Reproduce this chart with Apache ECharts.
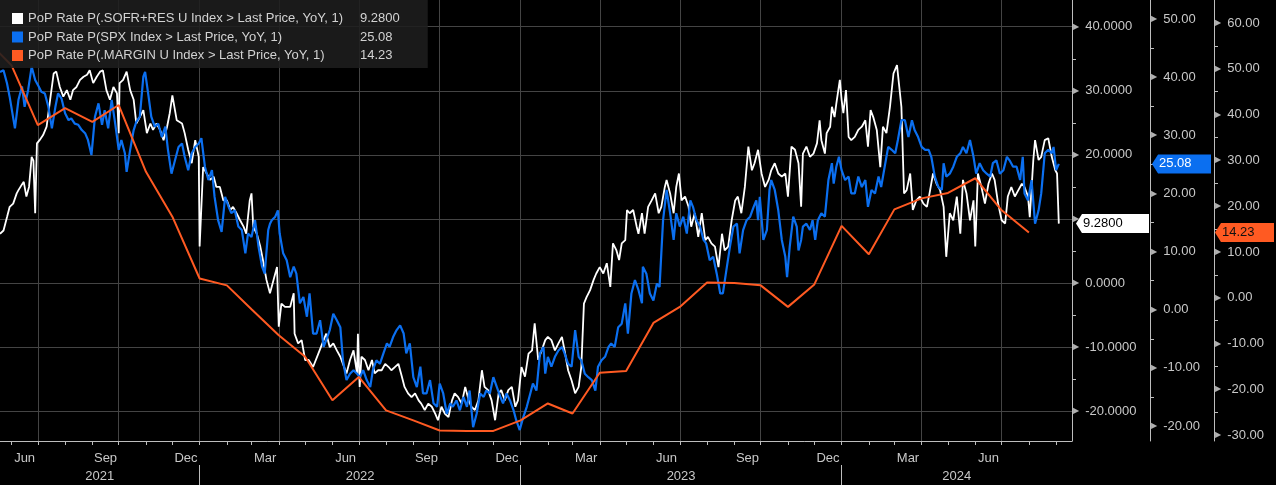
<!DOCTYPE html>
<html><head><meta charset="utf-8">
<script src="https://cdn.jsdelivr.net/npm/echarts@6/dist/echarts.min.js"></script>
<style>html,body{margin:0;padding:0;background:#000;overflow:hidden;}#c{width:1276px;height:485px;}</style>
</head><body><div id="c"></div><script>
// ---------------- DATA ----------------
const seriesNames = [
  'PoP Rate P(.SOFR+RES U Index > Last Price, YoY, 1)',
  'PoP Rate P(SPX Index > Last Price, YoY, 1)',
  'PoP Rate P(.MARGIN U Index > Last Price, YoY, 1)'
];
const lastValues = ['9.2800', '25.08', '14.23'];
const lastNumbers = [9.28, 25.08, 14.23];
const baseDate = '2021-05-19';   // day 0 of the day offsets below
const axisStart = '2021-05-19';
const axisEnd = '2024-09-19';

const sofrDays = [0,4,8,11,15,19,21,25,27,30,33,36,38,40,42,45,49,53,57,61,64,68,72,76,80,83,87,91,95,99,102,106,110,114,117,121,125,129,133,135,136,140,144,148,152,155,159,163,167,171,174,178,182,186,190,193,196,201,207,210,214,218,222,226,227,231,235,239,243,246,250,254,258,262,265,269,273,277,280,284,286,288,292,296,299,303,307,
309,315,317,320,324,330,334,335,339,343,347,351,356,362,368,371,375,379,383,387,390,394,398,402,406,407,409,411,415,419,423,426,430,434,438,442,445,449,453,457,460,464,468,472,476,479,483,487,491,495,498,502,506,510,514,517,521,525,529,533,536,540,544,548,551,555,559,563,567,570,574,578,582,586,589,593,597,601,605,608,
612,616,620,623,627,631,635,639,642,646,650,654,658,661,664,667,671,675,678,682,686,690,694,697,701,704,707,711,713,716,720,724,726,730,733,737,741,745,749,752,756,758,762,766,769,772,775,779,783,786,790,794,798,802,805,809,813,817,821,824,828,832,836,839,843,847,851,855,858,862,866,870,874,877,881,885,889,893,896,900,904,908,
911,913,917,921,925,929,932,934,938,940,944,946,949,951,955,957,959,962,965,968,972,976,980,984,987,990,993,997,1001,1004,1008,1012,1016,1020,1023,1025,1028,1031,1035,1038,1042,1046,1050,1054,1057,1061,1065,1069,1073,1076,1080,1084,1088,1092,1095,1099,1103,1107,1109,1112,1116,1120,1124,1128,1131,1135,1139,1143,1146,1150,1154,1158,1162,1165,1169,1171,1175,1177,1181,1184,1188,1192,1196,1200,1202,1204];
const sofrVals = [7.7,8.2,10.3,11.9,12.4,14.0,14.5,15.4,15.8,13.5,15.0,19.7,19.1,10.9,21.8,22.3,23.1,24.4,28.6,32.7,33.0,30.6,29.1,30.1,28.6,30.1,30.6,31.7,32.2,32.5,33.2,31.2,32.2,33.0,33.2,30.1,28.6,30.6,29.6,23.4,31.2,31.7,33.0,30.1,28.6,24.9,25.9,27.0,23.4,24.9,23.9,24.9,23.9,22.3,24.4,26.5,29.3,25.4,24.9,23.4,20.8,18.7,22.3,19.7,5.7,18.1,17.1,16.1,16.6,15.0,15.0,12.9,12.9,11.4,11.9,10.9,9.8,8.8,7.7,12.9,14.0,8.8,7.7,5.7,3.6,0.5,-1.6,
-1.6,2.5,-6.8,-3.2,-3.7,-3.7,-1.6,-7.9,-9.4,-8.9,-12.0,-12.0,-13.1,-11.0,-8.9,-7.9,-10.0,-9.4,-10.5,-11.5,-12.6,-14.1,-12.0,-10.5,-14.1,-7.9,-16.2,-11.5,-12.0,-13.6,-12.0,-14.1,-13.6,-13.6,-12.6,-13.1,-13.6,-13.1,-12.6,-14.6,-16.2,-17.2,-17.8,-17.2,-18.3,-18.8,-19.8,-18.8,-19.3,-20.4,-21.4,-19.3,-20.4,-20.9,-18.3,-17.2,-17.8,-18.8,-16.2,-18.3,-19.3,-19.8,-18.3,-13.6,-16.2,-16.7,-18.3,-21.4,-17.2,-16.7,-18.3,-16.7,-16.2,-19.3,-18.3,-13.1,-14.6,-11.0,-10.5,-6.3,
-12.0,-10.5,-8.9,-8.4,-8.9,-10.5,-9.4,-8.4,-10.5,-13.6,-15.2,-17.2,-16.2,-13.1,-3.2,-2.2,-1.1,0.5,1.5,2.5,1.5,3.1,-0.6,6.2,5.1,3.6,6.2,6.7,11.4,10.9,11.4,8.8,7.7,10.9,7.7,11.9,12.9,14.0,10.9,11.9,15.0,16.1,14.0,10.9,15.0,17.1,12.9,13.5,11.9,8.8,10.9,7.2,10.9,6.7,7.2,6.2,5.7,2.5,7.7,5.1,5.7,9.8,12.9,13.5,10.9,15.0,21.3,17.6,18.7,20.8,17.1,15.0,16.1,17.6,18.7,17.1,16.6,17.1,13.5,21.3,20.8,18.7,
11.9,20.2,21.3,19.7,20.2,21.8,25.4,22.3,20.2,23.4,24.4,27.5,25.9,28.0,31.7,28.6,26.5,30.1,22.8,22.3,22.8,23.9,24.4,25.4,21.3,27.0,25.9,23.9,18.1,24.4,23.4,27.5,32.7,34.0,30.1,27.5,14.0,14.5,17.1,11.4,12.9,13.5,12.4,11.9,14.0,17.1,15.5,14.5,11.9,4.1,10.9,9.8,13.5,7.7,16.1,14.0,9.8,12.9,5.7,17.1,15.0,12.4,15.5,17.1,16.1,12.4,9.8,9.3,13.5,15.0,13.5,14.5,15.5,15.0,13.5,10.3,19.2,22.3,19.2,19.7,22.3,22.6,19.7,17.6,17.1,9.28];

const spxDays = [0,4,8,11,17,21,25,28,32,36,40,44,47,51,55,59,63,66,70,74,78,81,85,89,93,97,100,104,108,112,116,119,123,127,131,135,138,142,144,148,152,155,159,163,165,169,172,176,180,184,188,191,195,199,203,207,210,214,218,222,226,229,233,237,241,244,248,252,256,260,263,267,271,275,279,282,286,290,294,298,301,305,307,
309,313,316,318,322,326,330,334,337,341,345,349,352,356,360,364,368,371,375,379,383,387,390,394,398,402,406,409,413,417,421,424,428,432,436,440,443,447,451,455,459,462,466,470,474,478,481,485,489,493,497,500,504,508,512,515,519,523,527,531,534,538,542,546,550,553,557,561,565,569,572,576,580,584,587,591,595,599,603,606,
610,614,618,620,623,627,631,635,639,642,646,650,654,658,661,665,669,673,677,680,684,688,692,695,699,703,707,711,714,718,722,726,730,731,735,739,743,747,750,752,754,758,762,766,769,773,777,781,785,788,792,796,800,803,807,811,815,819,822,826,830,834,838,841,845,849,853,857,860,862,864,868,872,875,877,881,885,889,893,895,898,902,906,908,
911,913,917,921,924,927,930,934,938,942,946,948,951,954,957,961,965,968,972,976,980,984,987,991,995,999,1002,1006,1010,1014,1018,1021,1025,1029,1033,1037,1040,1044,1048,1052,1056,1059,1063,1067,1071,1073,1076,1080,1084,1088,1092,1095,1099,1103,1107,1110,1114,1118,1122,1126,1129,1133,1137,1141,1145,1148,1152,1156,1160,1163,1165,1169,1173,1177,1181,1184,1188,1192,1196,1198,1201,1204];
const spxVals = [40.9,41.2,38.9,36.6,31.2,36.1,38.4,34.9,37.8,41.8,39.5,38.4,37.5,37.2,34.9,31.2,34.9,37.2,36.3,33.8,32.6,32.9,32.0,31.8,30.9,30.3,29.2,26.6,33.2,35.5,31.8,34.3,31.2,36.1,32.0,27.5,29.2,26.9,23.7,27.5,30.9,32.3,33.2,40.1,40.9,36.6,33.2,31.5,32.0,29.7,31.5,27.5,23.4,25.7,28.0,28.6,26.3,24.0,26.9,28.0,28.6,29.5,24.6,22.3,24.0,19.4,15.4,13.4,19.4,17.7,16.6,17.1,14.3,13.7,9.7,13.1,12.5,15.4,10.8,7.4,6.2,13.7,14.8,
15.4,16.0,17.1,13.1,9.7,8.5,5.6,7.4,6.2,1.1,2.2,-1.2,2.8,-4.1,-4.1,-1.8,-6.4,-5.2,-3.5,-0.7,-1.8,-3.0,-8.7,-12.1,-11.0,-10.4,-11.0,-11.6,-10.4,-12.1,-13.3,-10.4,-8.7,-9.3,-7.5,-5.8,-6.4,-4.7,-3.5,-2.7,-4.1,-7.5,-5.8,-11.6,-13.3,-9.8,-14.4,-14.4,-12.1,-16.1,-16.7,-12.7,-14.4,-17.9,-16.1,-16.7,-15.6,-17.3,-15.0,-16.7,-13.9,-20.2,-17.9,-14.4,-15.0,-13.9,-14.4,-11.6,-13.3,-15.0,-16.1,-14.4,-15.6,-17.3,-19.0,-20.7,-18.5,-16.7,-14.4,-12.7,
-13.9,-7.5,-6.4,-11.0,-8.1,-9.8,-8.1,-7.0,-6.4,-7.5,-9.3,-9.8,-3.5,-8.1,-8.7,-11.0,-11.6,-12.1,-13.9,-9.8,-8.7,-8.1,-6.4,-5.8,-6.4,-3.0,-2.4,1.1,-4.1,2.8,5.1,3.4,1.1,7.4,6.2,2.8,1.6,4.5,3.9,9.7,15.4,20.6,16.6,12.0,16.6,14.3,16.0,13.1,18.8,17.7,15.4,14.3,12.0,11.4,8.5,9.1,6.2,2.8,2.8,6.8,10.8,14.3,14.8,9.7,13.7,15.4,16.0,17.7,18.8,15.4,19.4,12.0,13.7,20.6,22.3,20.6,17.1,12.0,9.1,5.6,10.8,16.0,14.3,10.2,
12.0,14.3,14.8,13.7,15.4,12.0,15.4,16.6,16.0,22.3,25.2,21.7,24.6,26.3,24.0,22.3,22.9,20.0,20.0,22.9,21.1,22.3,17.7,20.6,20.0,22.9,21.1,24.6,28.0,27.5,26.9,29.2,32.6,32.6,29.7,32.6,30.9,29.7,28.0,27.5,27.5,26.3,22.9,21.1,20.6,25.2,22.9,23.4,24.6,26.3,26.9,28.0,26.9,29.2,26.3,23.4,25.2,24.0,23.4,22.9,25.2,25.7,23.4,24.0,26.3,25.7,24.6,24.6,22.3,26.3,20.0,18.8,22.3,14.8,17.1,20.0,26.9,27.5,26.9,28.0,24.0,25.08];

const marginDates = ['2021-05-01','2021-06-01','2021-07-01','2021-08-01','2021-09-01','2021-10-01','2021-11-01','2021-12-01',
  '2022-01-01','2022-02-01','2022-03-01','2022-04-01','2022-05-01','2022-06-01','2022-07-01','2022-08-01','2022-09-01','2022-10-01','2022-11-01','2022-12-01',
  '2023-01-01','2023-02-01','2023-03-01','2023-04-01','2023-05-01','2023-06-01','2023-07-01','2023-08-01','2023-09-01','2023-10-01','2023-11-01','2023-12-01',
  '2024-01-01','2024-02-01','2024-03-01','2024-04-01','2024-05-01','2024-06-01','2024-07-01','2024-08-01'];
const marginVals = [56.8,50.8,37.7,41.4,38.4,42.1,27.5,17.7,
  4.2,2.7,-2.5,-8.2,-12.9,-22.4,-17.3,-24.6,-26.8,-29.0,-29.1,-29.1,
  -26.8,-23.1,-25.3,-16.4,-16.0,-5.5,-2.0,3.3,3.2,2.7,-2.0,2.9,
  15.7,9.5,19.3,21.7,22.9,26.1,19.1,14.23];

// tick labels
const y0Ticks = [-20,-10,0,10,20,30,40];
const y0Minor = [-15,-5,5,15,25,35];
const y1Ticks = [-20,-10,0,10,20,30,40,50];
const y1Minor = [-15,-5,5,15,25,35,45];
const y2Ticks = [-30,-20,-10,0,10,20,30,40,50,60];
const y2Minor = [-25,-15,-5,5,15,25,35,45,55];
const monthNames = ['Jan','Feb','Mar','Apr','May','Jun','Jul','Aug','Sep','Oct','Nov','Dec'];
const monthLabelMonths = [2,5,8,11]; // Mar, Jun, Sep, Dec
const yearLabels = ['2021','2022','2023','2024'];
const lastMonthLabel = '2024-06';

// ---------------- BUILD ----------------
const DAY = 86400000;
const ts = s => Date.parse(s + 'T00:00:00Z');
const base = ts(baseDate);
const xMin = ts(axisStart), xMax = ts(axisEnd);
const sofrData = sofrDays.map((d,i)=>[base + d*DAY, sofrVals[i]]);
const spxData = spxDays.map((d,i)=>[base + d*DAY, spxVals[i]]);
const marginData = marginDates.map((d,i)=>[ts(d), marginVals[i]]);

const monthTicks = [], quarterGrid = [], monthLabelPos = [];
for (let y = 2021; y <= 2024; y++) {
  for (let m = 0; m < 12; m++) {
    const t = Date.UTC(y, m, 1);
    if (t <= xMin || t >= xMax) continue;
    monthTicks.push(t);
    if (m % 3 === 0) quarterGrid.push(t);
    const mid = (t + Date.UTC(y, m + 1, 1)) / 2;
    if (monthLabelMonths.includes(m) && mid < ts(lastMonthLabel + '-28')) monthLabelPos.push(mid);
  }
}
const yearStarts = yearLabels.slice(1).map(y => ts(y + '-01-01'));
const yearBounds = [xMin].concat(yearStarts).concat([xMax]);
const yearLabelPos = yearLabels.map((y,i)=> (yearBounds[i] + yearBounds[i+1]) / 2);

const blue = '#0b6ff0', orange = '#ff5a22', white = '#ffffff';
const axisCol = '#bdbdbd', labCol = '#c8c8c8', gridCol = '#444444';
const FONT = '"Liberation Sans", Arial, sans-serif';

function arrowImg(color){
  const svg = '<svg xmlns="http://www.w3.org/2000/svg" width="6" height="19" viewBox="0 0 6 19"><polygon points="0,9.5 6,0 6,19" fill="' + color + '"/></svg>';
  return 'data:image/svg+xml;charset=utf-8,' + encodeURIComponent(svg);
}

function yAxisDef(offset, min, max, ticks, minor, dec, flagVal, flagText, flagBg, flagFg, flagW, lead, hideVal) {
  return {
    type: 'value', position: 'right', offset: offset, min: min, max: max,
    axisLine: { show: true, onZero: false, lineStyle: { color: axisCol, width: 1 } },
    axisTick: { show: true, customValues: minor, length: 4, inside: false, lineStyle: { color: axisCol } },
    splitLine: { show: false },
    axisLabel: {
      show: true, margin: 1, customValues: ticks.concat([flagVal]),
      formatter: function (v) {
        if (Math.abs(v - flagVal) < 1e-9) return (lead > 0 ? '{sp| }' : '') + '{fa| }{fb|' + flagText + '}';
        if (hideVal !== null && Math.abs(v - hideVal) < 1e-9) return '{t|▶}';
        return '{t|▶}{v|' + v.toFixed(dec) + '}';
      },
      rich: {
        t: { fontFamily: 'DejaVu Sans', fontSize: 8, color: '#b0b0b0', padding: [0, 6, 0, 0], verticalAlign: 'middle' },
        v: { fontFamily: FONT, fontSize: 13, color: labCol, verticalAlign: 'middle' },
        sp: { width: lead, height: 19, fontSize: 1 },
        fa: { width: 6, height: 19, fontSize: 1, backgroundColor: { image: arrowImg(flagBg) }, verticalAlign: 'middle' },
        fb: { fontFamily: FONT, fontSize: 13, color: flagFg, backgroundColor: flagBg, width: flagW, height: 19, lineHeight: 19, padding: [0, 0, 0, 1], verticalAlign: 'middle' }
      }
    }
  };
}

const chart = echarts.init(document.getElementById('c'), null, { renderer: 'canvas' });
chart.setOption({
  backgroundColor: '#000000',
  animation: false,
  textStyle: { fontFamily: FONT },
  grid: { left: 0, right: 204, top: 0, bottom: 44, containLabel: false, outerBoundsMode: 'none' },
  legend: {
    left: 0, top: 0, orient: 'vertical', selectedMode: false, z: 20,
    padding: [12, 28, 6, 12], itemGap: 5.5, itemWidth: 11, itemHeight: 11,
    backgroundColor: 'rgba(30,30,30,0.88)',
    data: seriesNames.map(n => ({ name: n, icon: 'rect' })),
    formatter: function (name) { const i = seriesNames.indexOf(name); return '{n|' + name + '}{v|' + lastValues[i] + '}'; },
    textStyle: {
      color: '#d2d2d2', fontSize: 13, fontFamily: FONT,
      rich: {
        n: { width: 332, color: '#d2d2d2', fontSize: 13, fontFamily: FONT },
        v: { width: 47, color: '#d2d2d2', fontSize: 13, fontFamily: FONT }
      }
    }
  },
  xAxis: [
    {
      type: 'value', min: xMin, max: xMax, position: 'bottom',
      axisLine: { show: true, onZero: false, lineStyle: { color: axisCol } },
      axisTick: { show: true, customValues: monthTicks, length: 4, inside: false, lineStyle: { color: axisCol } },
      splitLine: { show: false },
      axisLabel: {
        show: true, customValues: monthLabelPos, margin: 11, color: labCol, fontSize: 13, fontFamily: FONT,
        formatter: v => monthNames[new Date(v).getUTCMonth()]
      }
    },
    {
      type: 'value', min: xMin, max: xMax, position: 'bottom', offset: 24,
      axisLine: { show: false, onZero: false },
      axisTick: { show: true, customValues: yearStarts, length: 20, inside: false, lineStyle: { color: axisCol } },
      splitLine: { show: false },
      axisLabel: {
        show: true, customValues: yearLabelPos, margin: 5, color: labCol, fontSize: 13, fontFamily: FONT,
        formatter: v => { const i = yearLabelPos.findIndex(p => Math.abs(p - v) < DAY); return i >= 0 ? yearLabels[i] : ''; }
      }
    }
  ],
  yAxis: [
    yAxisDef(0, -24.64, 44.17, y0Ticks, y0Minor, 4, lastNumbers[0], lastValues[0], '#ffffff', '#000000', 66, 3, 10),
    yAxisDef(78, -22.58, 53.27, y1Ticks, y1Minor, 2, lastNumbers[1], lastValues[1], blue, '#ffffff', 52, 1, null),
    yAxisDef(142, -31.3, 65.04, y2Ticks, y2Minor, 2, lastNumbers[2], lastValues[2], orange, '#111111', 52, 0, null)
  ],
  series: [
    {
      name: 'grid', type: 'line', data: [], xAxisIndex: 0, yAxisIndex: 0, z: 1, silent: true,
      markLine: {
        z: 1, silent: true, symbol: ['none', 'none'], animation: false,
        label: { show: false },
        lineStyle: { color: gridCol, width: 1, type: 'solid' },
        emphasis: { disabled: true },
        data: quarterGrid.map(t => ({ xAxis: t })).concat(y0Ticks.map(v => ({ yAxis: v })))
      }
    },
    { name: seriesNames[0], type: 'line', data: sofrData, xAxisIndex: 0, yAxisIndex: 0, color: white,
      showSymbol: false, symbol: 'none', lineStyle: { color: white, width: 1.8 }, z: 3, clip: true },
    { name: seriesNames[1], type: 'line', data: spxData, xAxisIndex: 0, yAxisIndex: 1, color: blue,
      showSymbol: false, symbol: 'none', lineStyle: { color: blue, width: 2.2 }, z: 4, clip: true },
    { name: seriesNames[2], type: 'line', data: marginData, xAxisIndex: 0, yAxisIndex: 2, color: orange,
      showSymbol: false, symbol: 'none', lineStyle: { color: orange, width: 2 }, z: 5, clip: true }
  ]
});
</script></body></html>
